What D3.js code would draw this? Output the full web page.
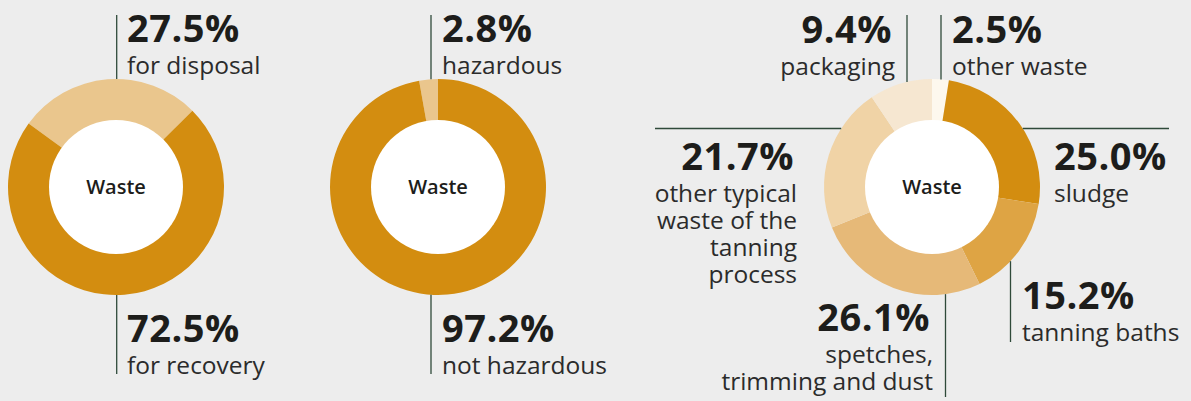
<!DOCTYPE html>
<html lang="en">
<head>
  <meta charset="UTF-8">
  <title>Waste breakdown</title>
  <script src="https://d3js.org/d3.v7.min.js"></script>
  <style>
    html, body {
      margin: 0;
      padding: 0;
      background: #ededed;
    }
    svg {
      display: block;
      font-family: "Open Sans", "Noto Sans", sans-serif;
    }
  </style>
</head>
<body>
  <svg id="chart" width="1191" height="401"></svg>

  <script>
// data
const destLabels = ["for disposal", "for recovery"];
const destValues = [27.5, 72.5];

const hazardLabels = ["hazardous", "not hazardous"];
const hazardValues = [2.8, 97.2];

const typeLabels = [
  "other waste",
  "sludge",
  "tanning baths",
  "spetches,\ntrimming and dust",
  "other typical\nwaste of the\ntanning\nprocess",
  "packaging"
];
const typeValues = [2.5, 25.0, 15.2, 26.1, 21.7, 9.4];

const centerLabel = "Waste";

// colours
const destColors = ["#eac68d", "#d38d10"];
const hazardColors = ["#eac68d", "#d38d10"];
const typeColors = ["#fdf8ee", "#d38d10", "#dea444", "#e6b978", "#f0d3a6", "#f6e7d1"];

// layout of each donut and its callouts
const outerR = 108, innerR = 67;
const lineColor = "#2f4a3a";

const charts = [
  {
    cx: 116, cy: 187, startDeg: -54,
    labels: destLabels, values: destValues, colors: destColors,
    callouts: [
      { x: 127, anchor: "start", y: 42, line: { v: 116.7, from: 15 } },
      { x: 127, anchor: "start", y: 342, line: { v: 116.7, to: 374 } }
    ]
  },
  {
    cx: 438, cy: 187, startDeg: -2.8 * 3.6,
    labels: hazardLabels, values: hazardValues, colors: hazardColors,
    callouts: [
      { x: 442, anchor: "start", y: 42, line: { v: 431, from: 15 } },
      { x: 442, anchor: "start", y: 342, line: { v: 431, to: 374 } }
    ]
  },
  {
    cx: 932, cy: 187, startDeg: 0,
    labels: typeLabels, values: typeValues, colors: typeColors,
    callouts: [
      { x: 952, anchor: "start", y: 43, line: { v: 941, from: 15 } },
      { x: 1054, anchor: "start", y: 170, line: { h: 128.5, to: 1169 } },
      { x: 1022, anchor: "start", y: 309, line: { v: 1010.5, to: 342 } },
      { x: 933, anchor: "end", y: 331, line: { v: 945.5, to: 397 } },
      { x: 797, anchor: "end", y: 170, line: { h: 128.5, from: 655 } },
      { x: 895, anchor: "end", y: 43, line: { v: 907, from: 15 } }
    ]
  }
];

const svg = d3.select("#chart");

charts.forEach(c => {
  const g = svg.append("g").attr("transform", `translate(${c.cx},${c.cy})`);

  const start = c.startDeg * Math.PI / 180;
  const pie = d3.pie().sort(null).value(d => d)
    .startAngle(start).endAngle(start + 2 * Math.PI);
  const arc = d3.arc().innerRadius(innerR - 1).outerRadius(outerR);

  g.selectAll("path.slice")
    .data(pie(c.values))
    .enter()
    .append("path")
    .attr("class", "slice")
    .attr("d", arc)
    .attr("fill", (d, i) => c.colors[i]);

  g.append("circle")
    .attr("r", innerR)
    .attr("fill", "#ffffff");

  g.append("text")
    .attr("y", 7)
    .attr("text-anchor", "middle")
    .attr("font-size", "20px")
    .attr("font-weight", 600)
    .attr("fill", "#1d1d1b")
    .text(centerLabel);

  // callout lines, clipped at the donut edge
  c.callouts.forEach((co, i) => {
    const l = co.line;
    let x1, y1, x2, y2;
    if (l.v !== undefined) {
      const dx = l.v - c.cx;
      const half = Math.sqrt(outerR * outerR - dx * dx);
      x1 = x2 = l.v;
      if (l.from !== undefined) { y1 = l.from; y2 = c.cy - half; }
      else { y1 = c.cy + half; y2 = l.to; }
    } else {
      const dy = l.h - c.cy;
      const half = Math.sqrt(outerR * outerR - dy * dy);
      y1 = y2 = l.h;
      if (l.from !== undefined) { x1 = l.from; x2 = c.cx - half; }
      else { x1 = c.cx + half; x2 = l.to; }
    }
    svg.append("line")
      .attr("x1", x1).attr("y1", y1)
      .attr("x2", x2).attr("y2", y2)
      .attr("stroke", lineColor)
      .attr("stroke-width", 1.3);

    // percentage, then the label lines below it
    svg.append("text")
      .attr("text-anchor", co.anchor)
      .attr("x", co.anchor === "end" ? co.x - 3 : co.x)
      .attr("y", co.y)
      .attr("font-size", "38px")
      .attr("font-weight", 700)
      .attr("letter-spacing", "0.5px")
      .attr("fill", "#1d1d1b")
      .text(d3.format(".1f")(c.values[i]) + "%");

    c.labels[i].split("\n").forEach((line, j) => {
      svg.append("text")
        .attr("text-anchor", co.anchor)
        .attr("x", co.x)
        .attr("y", co.y + 31.5 + j * 27.2)
        .attr("font-size", "24.5px")
        .attr("font-weight", 400)
        .attr("fill", "#2b2b2b")
        .text(line);
    });
  });
});
  </script>
</body>
</html>
